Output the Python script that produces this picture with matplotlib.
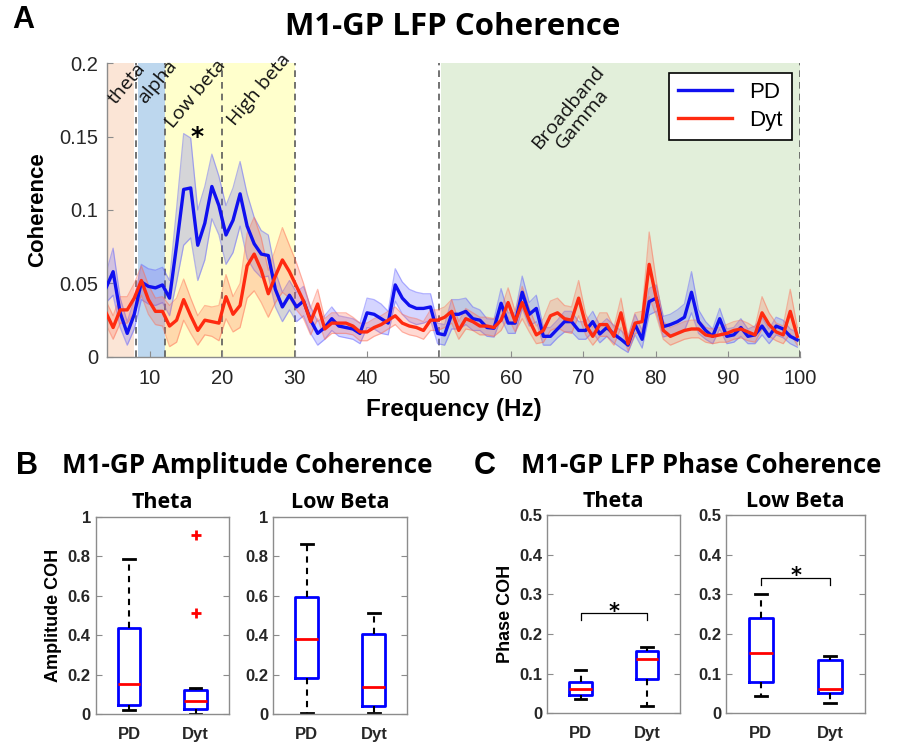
"""Recreate the M1-GP coherence figure (spectrum plus band box plots)."""

import matplotlib

matplotlib.use("Agg")
import matplotlib.pyplot as plt
import numpy as np

# FFT bins 4..102 (1000 Hz sampling, 1024-point windows)
FREQ_BINS = np.arange(4, 103)
FREQ_RES = 1000 / 1024

PD_COH = [
	0.047, 0.058, 0.030, 0.016, 0.029, 0.051, 0.048, 0.047, 0.049, 0.040,
	0.076, 0.114, 0.115, 0.076, 0.091, 0.116, 0.103, 0.083, 0.093, 0.111,
	0.089, 0.077, 0.070, 0.069, 0.046, 0.034, 0.042, 0.034, 0.038, 0.025,
	0.016, 0.020, 0.026, 0.021, 0.020, 0.019, 0.016, 0.030, 0.029, 0.026,
	0.023, 0.049, 0.040, 0.035, 0.033, 0.033, 0.034, 0.016, 0.015, 0.029,
	0.029, 0.031, 0.026, 0.025, 0.020, 0.0195, 0.0365, 0.023, 0.023, 0.044,
	0.029, 0.033, 0.014, 0.014, 0.019, 0.024, 0.024, 0.018, 0.018, 0.024,
	0.0156, 0.020, 0.0155, 0.012, 0.008, 0.022, 0.012, 0.0376, 0.040, 0.0206,
	0.022, 0.024, 0.027, 0.044, 0.024, 0.018, 0.014, 0.026, 0.014, 0.015,
	0.020, 0.014, 0.015, 0.021, 0.014, 0.021, 0.019, 0.014, 0.0116,
]
PD_SEM = [
	0.010, 0.016, 0.010, 0.008, 0.010, 0.012, 0.012, 0.012, 0.012, 0.012,
	0.025, 0.038, 0.034, 0.024, 0.025, 0.022, 0.020, 0.020, 0.022, 0.022,
	0.022, 0.018, 0.016, 0.014, 0.012, 0.010, 0.010, 0.010, 0.010, 0.009,
	0.008, 0.008, 0.008, 0.007, 0.007, 0.007, 0.007, 0.010, 0.010, 0.010,
	0.008, 0.011, 0.011, 0.011, 0.011, 0.010, 0.009, 0.007, 0.007, 0.010,
	0.010, 0.009, 0.008, 0.007, 0.006, 0.006, 0.010, 0.007, 0.007, 0.011,
	0.008, 0.009, 0.006, 0.006, 0.006, 0.007, 0.007, 0.006, 0.006, 0.007,
	0.006, 0.006, 0.006, 0.006, 0.005, 0.007, 0.006, 0.009, 0.009, 0.007,
	0.007, 0.008, 0.009, 0.014, 0.008, 0.006, 0.005, 0.007, 0.005, 0.005,
	0.006, 0.005, 0.006, 0.006, 0.005, 0.006, 0.006, 0.005, 0.005,
]
DYT_COH = [
	0.030, 0.020, 0.032, 0.032, 0.040, 0.052, 0.039, 0.031, 0.031, 0.021,
	0.025, 0.039, 0.028, 0.018, 0.025, 0.024, 0.023, 0.041, 0.029, 0.035,
	0.062, 0.070, 0.059, 0.043, 0.055, 0.066, 0.058, 0.048, 0.038, 0.024,
	0.036, 0.019, 0.023, 0.023, 0.023, 0.021, 0.017, 0.017, 0.020, 0.022,
	0.025, 0.028, 0.023, 0.021, 0.020, 0.018, 0.025, 0.025, 0.027, 0.031,
	0.018, 0.026, 0.024, 0.021, 0.021, 0.020, 0.025, 0.037, 0.024, 0.037,
	0.025, 0.015, 0.018, 0.028, 0.030, 0.026, 0.025, 0.040, 0.022, 0.014,
	0.022, 0.022, 0.014, 0.030, 0.009, 0.023, 0.024, 0.063, 0.040, 0.018,
	0.014, 0.016, 0.018, 0.019, 0.019, 0.015, 0.014, 0.015, 0.016, 0.018,
	0.019, 0.017, 0.015, 0.030, 0.022, 0.017, 0.015, 0.031, 0.014,
]
DYT_SEM = [
	0.008, 0.008, 0.009, 0.009, 0.010, 0.010, 0.010, 0.009, 0.010, 0.014,
	0.015, 0.014, 0.012, 0.010, 0.010, 0.010, 0.012, 0.015, 0.012, 0.015,
	0.022, 0.025, 0.022, 0.016, 0.018, 0.022, 0.018, 0.016, 0.012, 0.009,
	0.010, 0.007, 0.007, 0.007, 0.007, 0.006, 0.006, 0.006, 0.006, 0.006,
	0.006, 0.006, 0.006, 0.006, 0.006, 0.006, 0.007, 0.007, 0.007, 0.008,
	0.006, 0.007, 0.006, 0.006, 0.006, 0.006, 0.007, 0.010, 0.007, 0.011,
	0.008, 0.006, 0.008, 0.010, 0.010, 0.009, 0.009, 0.012, 0.007, 0.006,
	0.008, 0.008, 0.006, 0.010, 0.005, 0.007, 0.007, 0.022, 0.012, 0.006,
	0.006, 0.006, 0.006, 0.006, 0.006, 0.005, 0.005, 0.005, 0.006, 0.006,
	0.006, 0.006, 0.005, 0.011, 0.008, 0.006, 0.006, 0.015, 0.006,
]

# frequency bands: (start Hz, end Hz, colour)
BAND_SPANS = [
	(4, 7.75, "#fbe5d6"),
	(8.3, 12, "#bdd7ee"),
	(12, 30, "#ffffcc"),
	(50.3, 100, "#e2efda"),
]
BAND_EDGES = [8, 12, 20, 30, 50, 100]
# (label, centre Hz, centre coherence)
BAND_LABELS = [
	("theta", 6.9, 0.186),
	("alpha", 11.0, 0.187),
	("Low beta", 16.4, 0.179),
	("High beta", 25.1, 0.182),
	("Broadband\nGamma", 68.8, 0.166),
]

GROUPS = ["PD", "Dyt"]
# box stats per group: [whisker low, q1, median, q3, whisker high]
AMP_THETA = [[0.02, 0.045, 0.152, 0.438, 0.784], [0.0, 0.026, 0.066, 0.122, 0.134]]
AMP_THETA_OUTLIERS = [[], [0.905, 0.51]]
AMP_LOWBETA = [[0.005, 0.183, 0.378, 0.591, 0.862], [0.005, 0.042, 0.135, 0.405, 0.514]]
PHASE_THETA = [[0.036, 0.045, 0.060, 0.078, 0.109], [0.018, 0.087, 0.136, 0.158, 0.166]]
PHASE_LOWBETA = [[0.044, 0.078, 0.153, 0.241, 0.301], [0.025, 0.052, 0.060, 0.134, 0.145]]
# significance bracket heights (bar, tick end)
PHASE_THETA_SIG = (0.252, 0.234)
PHASE_LOWBETA_SIG = (0.342, 0.324)

TEXT_FONT = ["Open Sans", "DejaVu Sans"]
AXIS_FONT = ["Liberation Sans", "DejaVu Sans"]
FRAME_GRAY = "#8c8c8c"
TICK_TEXT = "#262626"


def style_axes(ax, bold_ticks=False, size=12, box=True):
	for name, spine in ax.spines.items():
		spine.set_color(FRAME_GRAY)
		spine.set_linewidth(1.0)
		if not box and name in ("top", "right"):
			spine.set_visible(False)
	ax.tick_params(
		direction="in",
		top=box,
		right=box,
		length=4,
		color=FRAME_GRAY,
		labelcolor=TICK_TEXT,
		labelsize=size,
	)
	for lab in ax.get_xticklabels() + ax.get_yticklabels():
		lab.set_family(AXIS_FONT)
		if bold_ticks:
			lab.set_fontweight("bold")


def plot_spectrum(fig):
	ax = fig.add_axes([0.119, 0.519, 0.773, 0.396])
	for lo, hi, color in BAND_SPANS:
		ax.axvspan(lo, hi, color=color, lw=0, zorder=0)
	for x in BAND_EDGES:
		ax.axvline(x, color="#5a5a5a", ls=(0, (4, 3)), lw=1.2, zorder=1)

	freqs = FREQ_BINS * FREQ_RES
	series = [
		(np.array(PD_COH), np.array(PD_SEM), "#1010f0", "#5a5aff", "PD"),
		(np.array(DYT_COH), np.array(DYT_SEM), "#ff2a10", "#ff6a50", "Dyt"),
	]
	handles = []
	for mean, sem, line_c, fill_c, label in series:
		ax.fill_between(freqs, mean - sem, mean + sem, color=fill_c, alpha=0.25, lw=0, zorder=2)
		ax.plot(freqs, mean - sem, color=fill_c, alpha=0.45, lw=0.9, zorder=2)
		ax.plot(freqs, mean + sem, color=fill_c, alpha=0.45, lw=0.9, zorder=2)
		(line,) = ax.plot(freqs, mean, color=line_c, lw=2.4, label=label, zorder=4)
		handles.append(line)

	for text, fx, fy in BAND_LABELS:
		ax.text(
			fx, fy, text, rotation=50, ha="center", va="center",
			fontsize=14, family=TEXT_FONT, color="#111111", linespacing=1.0, zorder=5,
		)
	ax.text(16.5, 0.150, "*", ha="center", va="center", fontsize=18, fontweight="bold", zorder=5)

	ax.set_xlim(4, 100)
	ax.set_ylim(0, 0.2)
	ax.set_xticks([10, 20, 30, 40, 50, 60, 70, 80, 90, 100])
	ax.set_yticks([0, 0.05, 0.1, 0.15, 0.2])
	ax.set_yticklabels(["0", "0.05", "0.1", "0.15", "0.2"])
	style_axes(ax, size=14.5, box=False)
	ax.tick_params(axis="x", pad=9)
	ax.tick_params(axis="y", pad=6)
	ax.set_xlabel("Frequency (Hz)", fontsize=17.5, fontweight="bold", family=AXIS_FONT, labelpad=7)
	ax.set_ylabel("Coherence", fontsize=16, fontweight="bold", family=AXIS_FONT, labelpad=8)

	leg = ax.legend(
		handles=handles,
		loc="upper right",
		bbox_to_anchor=(0.988, 0.966),
		borderaxespad=0,
		fancybox=False,
		framealpha=1,
		edgecolor="black",
		prop={"family": AXIS_FONT, "size": 16},
		handlelength=2.4,
		borderpad=0.4,
		labelspacing=0.3,
	)
	leg.get_frame().set_linewidth(1.2)


def plot_boxes(fig, rect, stats, ylim, yticks, title, outliers=None, sig=None, ylabel=None):
	ax = fig.add_axes(rect)
	bxp_stats = []
	for i, (lo, q1, med, q3, hi) in enumerate(stats):
		fl = outliers[i] if outliers else []
		bxp_stats.append(
			{"whislo": lo, "q1": q1, "med": med, "q3": q3, "whishi": hi, "fliers": fl, "label": GROUPS[i]}
		)
	ax.bxp(
		bxp_stats,
		positions=[1, 2],
		widths=0.34,
		boxprops={"color": "#0000ff", "linewidth": 2},
		medianprops={"color": "#ff0000", "linewidth": 2},
		whiskerprops={"color": "black", "linewidth": 1.5, "linestyle": (0, (3, 2.5))},
		capprops={"color": "black", "linewidth": 2},
		capwidths=0.17,
		flierprops={"marker": "+", "markeredgecolor": "#ff0000", "markersize": 7, "markeredgewidth": 2},
	)
	ax.set_xlim(0.5, 2.5)
	ax.set_ylim(*ylim)
	ax.set_yticks(yticks)
	ax.set_yticklabels([f"{t:g}" for t in yticks])
	style_axes(ax, bold_ticks=True, size=12)
	ax.tick_params(axis="x", length=0, pad=9)
	ax.set_title(title, fontsize=15.5, fontweight="bold", family=TEXT_FONT, pad=6)
	if ylabel:
		ax.set_ylabel(ylabel, fontsize=13, fontweight="bold", family=AXIS_FONT, labelpad=4)
	if sig:
		bar, tick = sig
		ax.plot([1, 1, 2, 2], [tick, bar, bar, tick], color="black", lw=0.9)
		# asterisk glyph sits high in its em box, so anchor the baseline just under the bar
		ax.text(1.5, bar - 0.012, "*", ha="center", va="baseline", fontsize=15, fontweight="bold")
	return ax


def main():
	fig = plt.figure(figsize=(8.97, 7.42), dpi=100)
	plot_spectrum(fig)

	fig.text(0.014, 0.973, "A", fontsize=22, fontweight="bold", family=AXIS_FONT, va="center")
	fig.text(0.505, 0.963, "M1-GP LFP Coherence", fontsize=22.5, fontweight="bold", family=TEXT_FONT, ha="center", va="center")
	fig.text(0.018, 0.372, "B", fontsize=22, fontweight="bold", family=AXIS_FONT, va="center")
	fig.text(0.276, 0.372, "M1-GP Amplitude Coherence", fontsize=18.7, fontweight="bold", family=TEXT_FONT, ha="center", va="center")
	fig.text(0.528, 0.372, "C", fontsize=22, fontweight="bold", family=AXIS_FONT, va="center")
	fig.text(0.782, 0.372, "M1-GP LFP Phase Coherence", fontsize=18.5, fontweight="bold", family=TEXT_FONT, ha="center", va="center")

	amp_ticks = [0, 0.2, 0.4, 0.6, 0.8, 1]
	phase_ticks = [0, 0.1, 0.2, 0.3, 0.4, 0.5]
	plot_boxes(fig, [0.1067, 0.0377, 0.1487, 0.2659], AMP_THETA, (0, 1), amp_ticks, "Theta",
		outliers=AMP_THETA_OUTLIERS, ylabel="Amplitude COH")
	plot_boxes(fig, [0.3047, 0.0377, 0.1494, 0.2659], AMP_LOWBETA, (0, 1), amp_ticks, "Low Beta")
	plot_boxes(fig, [0.6102, 0.0387, 0.1480, 0.2673], PHASE_THETA, (0, 0.5), phase_ticks, "Theta",
		sig=PHASE_THETA_SIG, ylabel="Phase COH")
	plot_boxes(fig, [0.8094, 0.0387, 0.1550, 0.2673], PHASE_LOWBETA, (0, 0.5), phase_ticks, "Low Beta",
		sig=PHASE_LOWBETA_SIG)

	fig.savefig("out.png", dpi=100)
	plt.close(fig)


if __name__ == "__main__":
	main()
